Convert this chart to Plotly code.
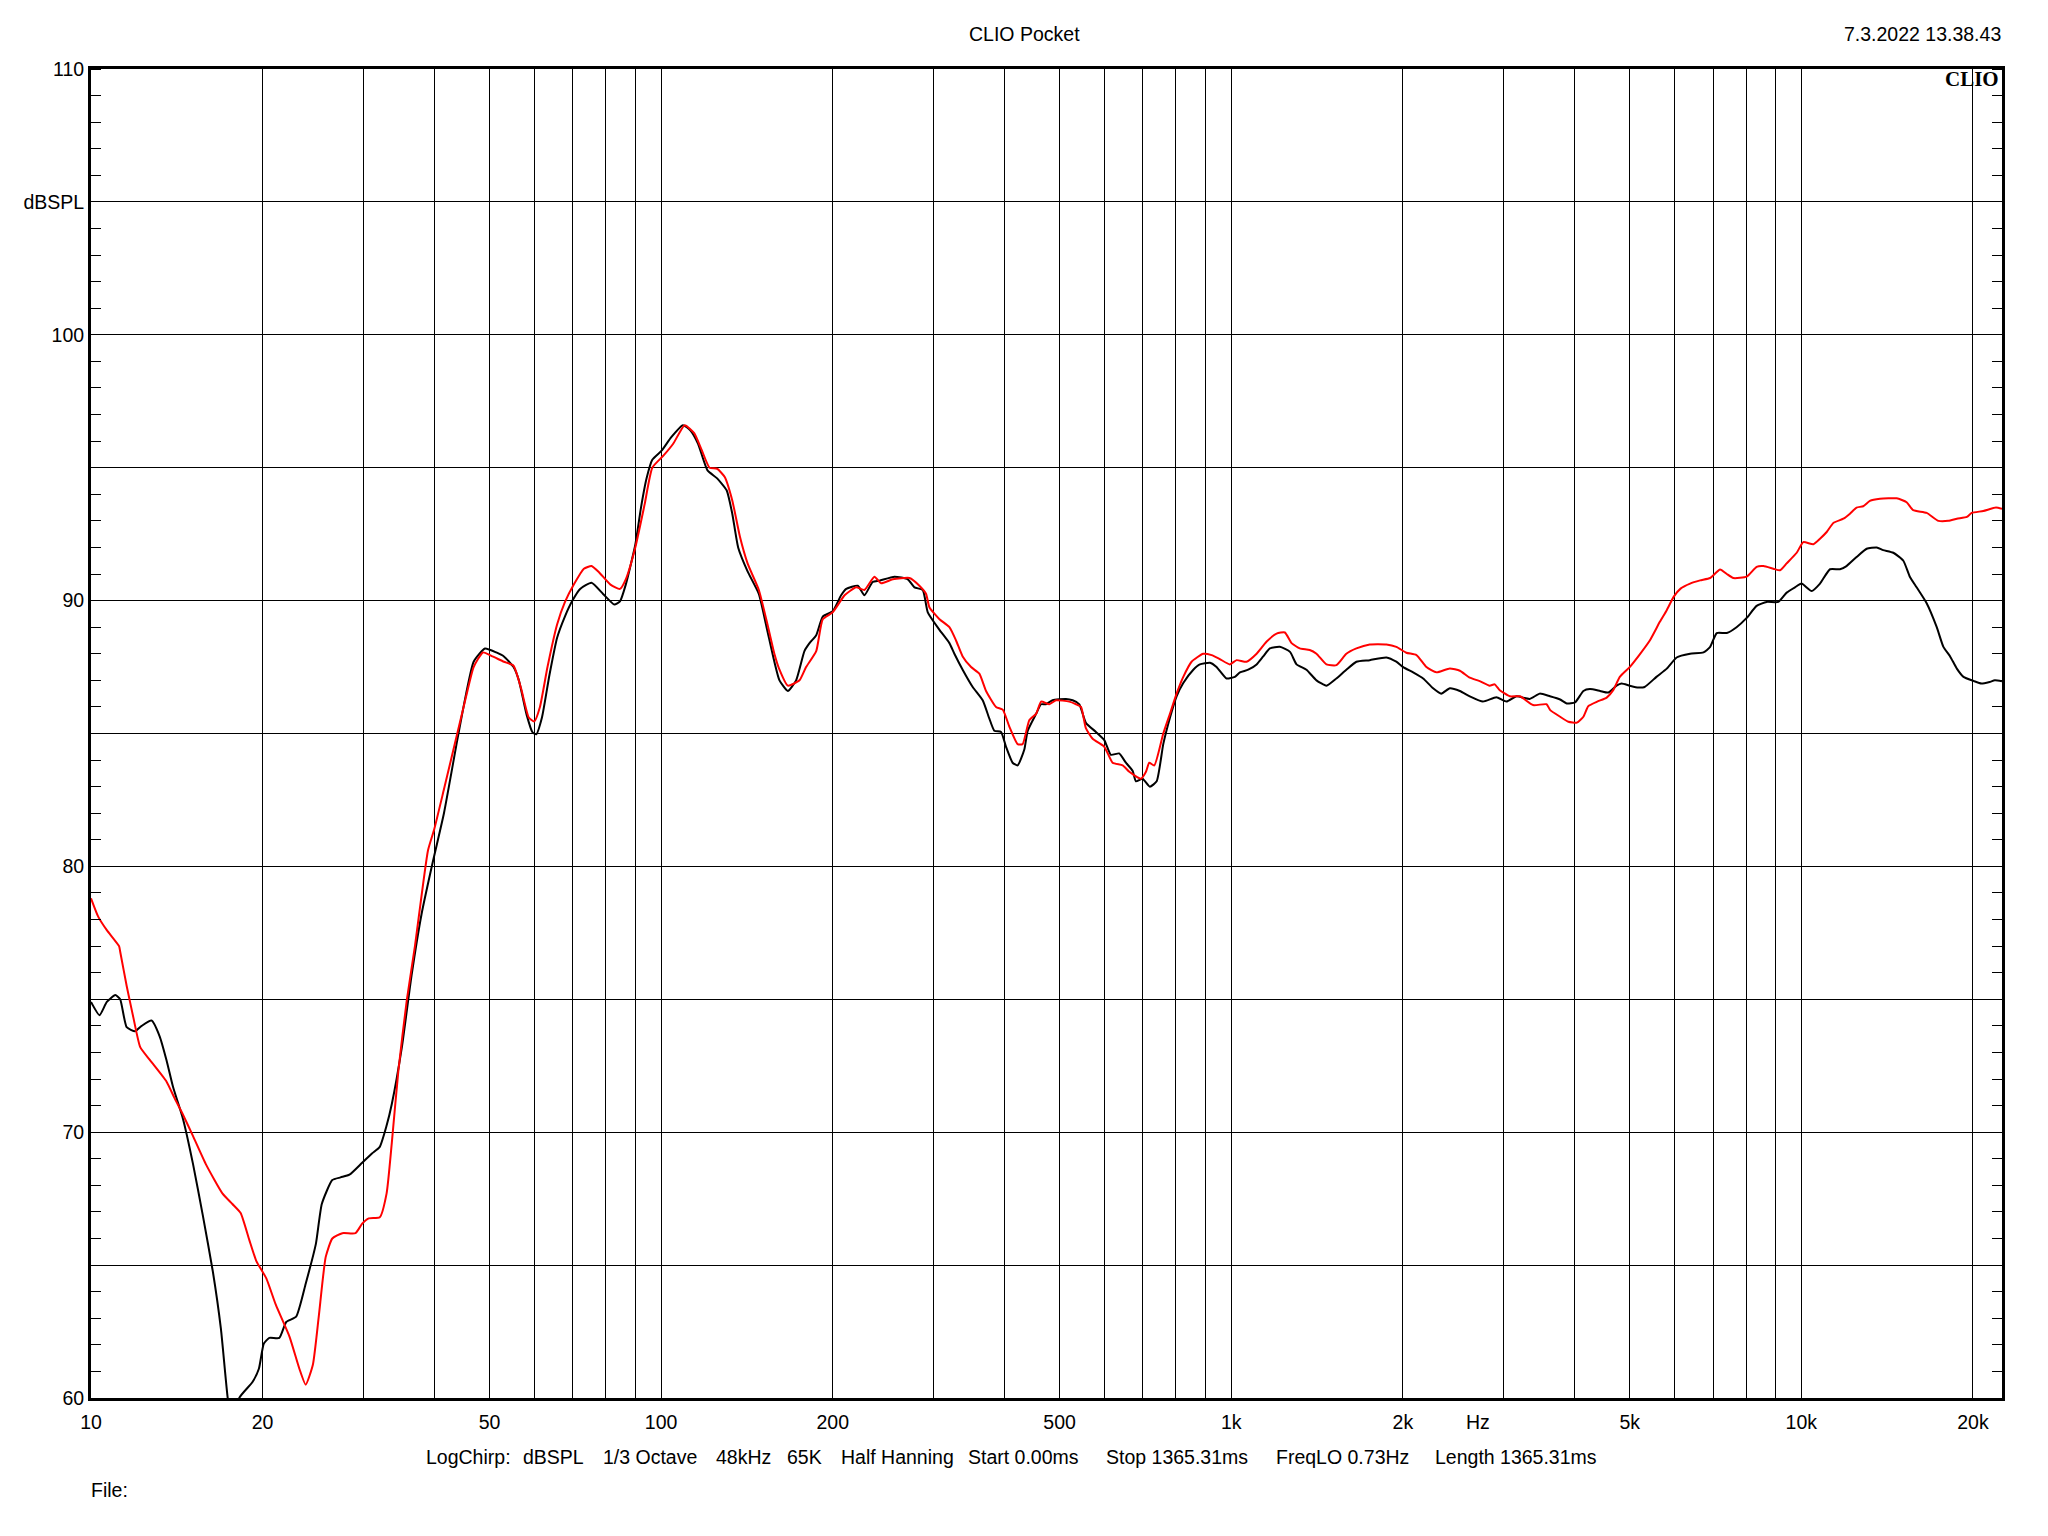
import plotly.graph_objects as go

# ---- data ----
black_freq = [10, 10.35, 10.66, 11.03, 11.25, 11.55, 11.95, 12.27, 12.77, 13.2, 13.57, 13.93, 14.5, 15.1,
              15.7, 16.36, 16.9, 17.37, 17.8, 18.2, 19.2, 19.7, 20.1, 20.55, 21.4, 22.0, 22.9, 23.8, 24.8,
              25.4, 26.5, 27.4, 28.4, 29.9, 31.1, 32.1, 33.0, 33.7, 35.1, 36.5, 38.0, 39.8, 41.6, 43.9,
              45.5, 46.9, 49.1, 51.4, 53.0, 55.1, 56.3, 58.1, 59.5, 60.4, 61.8, 63.7, 65.7, 67.8, 69.9,
              72.1, 75.5, 79.1, 82.8, 84.7, 86.7, 90.1, 92.2, 94.3, 96.5, 100.3, 104.2, 109.2, 112.6,
              116.1, 120.6, 125.4, 130.3, 133.3, 136.5, 141.8, 148.4, 153.1, 158.0, 161.3, 166.8, 172.5,
              178.4, 182.1, 187.1, 192.1, 200, 206.9, 211.2, 221.3, 227.3, 235, 241.5, 256.6, 270.9,
              278.2, 287.7, 293.6, 307.8, 320.4, 326.9, 338, 352, 366.5, 376.5, 384.2, 394.7, 402.7,
              413.6, 422, 433.6, 439.5, 455, 464, 473, 486, 513, 527, 541.5, 556, 579, 599, 615, 636,
              653.6, 671.4, 680.5, 699, 720, 740, 760, 781, 802, 824, 858, 881, 918, 942.5, 981, 1015,
              1036, 1071, 1108, 1138, 1169, 1217, 1268, 1302, 1355, 1411, 1469, 1529, 1592, 1658, 1750,
              1872, 1948, 2003, 2085, 2171, 2260, 2336, 2418, 2518, 2621, 2764, 2918, 3040, 3166, 3339,
              3477, 3623, 3775, 3877, 4010, 4147, 4258, 4437, 4586, 4741, 4837, 5000, 5173, 5311, 5570,
              5807, 6044, 6381, 6736, 6920, 7106, 7400, 7698, 8020, 8348, 8694, 9113, 9425, 9747, 10010,
              10425, 10784, 11228, 11690, 12002, 12500, 13020, 13560, 13920, 14500, 15100, 15500, 15930,
              16590, 17280, 17750, 18240, 18740, 19250, 20040, 20700, 21390, 21850, 22490]
black_db = [74.9, 74.4, 74.9, 75.16, 75.0, 73.95, 73.8, 74.0, 74.2, 73.6, 72.7, 71.7, 70.5, 68.8,
            66.9, 64.75, 62.6, 60.0, 58.6, 60.0, 60.6, 61.1, 62.05, 62.26, 62.26, 62.86, 63.06, 64.3, 65.8,
            67.3, 68.2, 68.3, 68.4, 68.85, 69.2, 69.45, 70.25, 71.06, 73.2, 75.9, 78.2, 80.2, 82.0, 84.75,
            86.5, 87.7, 88.2, 88.05, 87.9, 87.5, 87.0, 85.7, 85.04, 84.97, 85.6, 87.2, 88.6, 89.4, 90.0,
            90.44, 90.67, 90.25, 89.85, 89.97, 90.6, 92.1, 93.5, 94.6, 95.3, 95.65, 96.15, 96.6, 96.4,
            95.9, 94.9, 94.6, 94.15, 93.27, 92.0, 91.1, 90.25, 89.0, 87.7, 87.0, 86.6, 87.0,
            88.1, 88.4, 88.7, 89.4, 89.6, 90.2, 90.44, 90.56, 90.2, 90.7, 90.75, 90.9, 90.8,
            90.5, 90.4, 89.56, 88.9, 88.4, 88.0, 87.4, 86.75, 86.25, 85.56, 85.1, 85.06, 84.5,
            83.9, 83.8, 84.4, 85.1, 85.75, 86.1, 86.1, 86.25, 86.3, 86.25, 86.1, 85.4, 85.06, 84.75, 84.2, 84.25,
            83.9, 83.6, 83.2, 83.3, 83.0, 83.2, 84.6, 85.6, 86.4, 86.9, 87.4, 87.6, 87.66, 87.5, 87.07, 87.13,
            87.3, 87.4, 87.6, 87.9, 88.2, 88.26, 88.07, 87.6, 87.4, 87.0, 86.8, 87.07, 87.4, 87.7, 87.76,
            87.86, 87.7, 87.5, 87.3, 87.07, 86.7, 86.5, 86.7, 86.6, 86.4, 86.2, 86.36, 86.2, 86.4, 86.3,
            86.5, 86.4, 86.28, 86.13, 86.17, 86.6, 86.67, 86.6, 86.54, 86.8, 86.88, 86.8, 86.73, 86.75, 87.13,
            87.44, 87.86, 88.0, 88.05, 88.26, 88.78, 88.78, 89.0, 89.35, 89.8, 89.95, 89.95, 90.3, 90.5, 90.64,
            90.36, 90.64, 91.18, 91.18, 91.3, 91.64, 91.95, 92.0, 91.9, 91.8, 91.5, 90.9, 90.5,
            89.9, 89.0, 88.26, 87.9, 87.44, 87.13, 86.98, 86.88, 86.94, 87.0, 86.97]

red_freq = [10, 10.3, 10.66, 11.2, 11.25, 11.55, 11.87, 12.2, 12.7, 13.57, 14.0, 14.5, 15.1, 15.9, 17.0,
            17.7, 18.3, 18.95, 19.5, 20.3, 21.1, 22.3, 23.2, 23.8, 24.5, 25.1, 25.8, 26.5, 27.6, 29.1,
            29.9, 30.7, 32.1, 33.0, 33.7, 34.6, 35.8, 37.0, 39.0, 40.0, 41.6, 43.9, 45.5, 46.9, 48.7,
            50.6, 53.0, 55.1, 56.8, 58.6, 59.9, 61.3, 63.2, 65.7, 67.8, 70.4, 73.2, 75.5, 77.8, 81.5,
            84.7, 86.7, 90.1, 93.6, 96.5, 101.1, 105.0, 110.0, 114.3, 117.9, 121.6, 125.4, 129.3, 133.3,
            137.5, 141.8, 148.4, 153.1, 158.0, 161.3, 166.8, 174.9, 179.6, 187.1, 192.1, 200, 209.8,
            219.8, 227.3, 236.7, 243.1, 254.9, 272.7, 283.8, 291.6, 295.5, 307.8, 320.4, 329.1, 338,
            349.7, 361.6, 371.5, 386.8, 397.4, 408.3, 422, 430.6, 442.4, 455, 464, 479.7, 492.8, 520,
            534.3, 545.2, 556, 571.4, 599, 619.4, 645, 662.6, 694.5, 708.7, 718, 733, 760, 781, 802,
            824, 852, 893, 924, 955, 994.6, 1022, 1064, 1108, 1153, 1201, 1242, 1276, 1319, 1373, 1411,
            1469, 1529, 1592, 1658, 1750, 1872, 1948, 2028, 2113, 2200, 2291, 2418, 2518, 2621, 2728,
            2840, 2898, 2958, 3081, 3209, 3384, 3574, 3627, 3775, 3903, 4040, 4147, 4230, 4384, 4556,
            4678, 4804, 5000, 5208, 5423, 5647, 5807, 5971, 6140, 6381, 6645, 6920, 7203, 7400, 7600,
            8020, 8348, 8580, 8931, 9177, 9425, 9815, 10080, 10496, 10784, 11080, 11380, 11850, 12170,
            12500, 12840, 13190, 13740, 14700, 15300, 15710, 16590, 17400, 18110, 18740, 19520, 19900,
            20850, 21950, 22490]
red_db = [78.8, 78.1, 77.6, 77.0, 76.8, 75.5, 74.3, 73.2, 72.7, 71.9, 71.3, 70.66, 69.85, 68.8, 67.7,
          67.3, 66.96, 65.95, 65.15, 64.5, 63.5, 62.3, 61.1, 60.5, 61.25, 63.1, 65.3, 66.0, 66.2, 66.2,
          66.56, 66.76, 66.8, 67.7, 69.6, 72.3, 74.96, 77.0, 80.6, 81.4, 82.9, 85.0, 86.4, 87.5, 88.05,
          87.9, 87.7, 87.55, 86.7, 85.6, 85.45, 86.0, 87.5, 89.1, 89.94, 90.63, 91.2, 91.3, 91.07, 90.6,
          90.44, 90.8, 92.0, 93.64, 95.0, 95.47, 95.9, 96.6, 96.3, 95.65, 95.0, 94.96, 94.65, 93.77,
          92.4, 91.4, 90.4, 89.25, 88.0, 87.4, 86.8, 87.0, 87.5, 88.1, 89.3, 89.56, 90.2,
          90.5, 90.4, 90.9, 90.65, 90.8, 90.85, 90.56, 90.25, 89.75, 89.3, 89.0, 88.5, 87.9,
          87.5, 87.25, 86.6, 86.0, 85.9, 85.25, 84.6, 84.6, 85.5, 85.75, 86.2, 86.1, 86.25, 86.2,
          86.1, 86.0, 85.2, 84.8, 84.5, 83.9, 83.8, 83.56, 83.3, 83.56, 83.9, 83.8, 85.0, 85.75, 86.5,
          87.13, 87.7, 88.0, 87.95, 87.8, 87.6, 87.76, 87.7, 88.0, 88.45, 88.76, 88.8, 88.4, 88.2, 88.14, 88.0,
          87.6, 87.57, 88.0, 88.2, 88.35, 88.35, 88.26, 88.04, 87.95, 87.5, 87.3, 87.45, 87.36, 87.1, 86.97,
          86.8, 86.85, 86.63, 86.4, 86.4, 86.07, 86.1, 85.88, 85.63, 85.44, 85.41, 85.63, 86.03, 86.2, 86.35,
          86.63, 87.13, 87.5, 87.98, 88.5, 89.2, 89.64, 90.14, 90.45, 90.64, 90.76, 90.85, 91.17, 91.0, 90.85,
          90.9, 91.27, 91.3, 91.2, 91.14, 91.4, 91.8, 92.2, 92.12, 92.33, 92.58, 92.92, 93.08, 93.27,
          93.5, 93.55, 93.75, 93.83, 93.85, 93.7, 93.4, 93.3, 93.0, 93.0, 93.08, 93.15, 93.3,
          93.37, 93.5, 93.45]

x_grid = [10, 20, 30, 40, 50, 60, 70, 80, 90, 100, 200, 300, 400, 500, 600, 700, 800, 900,
          1000, 2000, 3000, 4000, 5000, 6000, 7000, 8000, 9000, 10000, 20000]
x_labels = ["10", "20", "", "", "50", "", "", "", "", "100", "200", "", "", "500", "", "", "", "",
            "1k", "2k", "", "", "5k", "", "", "", "", "10k", "20k"]
y_grid = [60, 65, 70, 75, 80, 85, 90, 95, 100, 105, 110]
y_labels = ["60", "", "70", "", "80", "", "90", "", "100", "dBSPL", "110"]

footer_items = ["LogChirp:", "dBSPL", "1/3 Octave", "48kHz", "65K", "Half Hanning",
                "Start 0.00ms", "Stop 1365.31ms", "FreqLO 0.73Hz", "Length 1365.31ms"]
footer_px = [426, 523, 603, 716, 787, 841, 968, 1106, 1276, 1435]

FONT = "Liberation Sans, Arial, sans-serif"
FS = 19.5
OFF = 8  # page body margin
L, R, T, B = 91, 2002, 69, 1398   # target plot box in page pixels
W, H = 2032, 1520                  # figure size (fits inside the page body)


def px(x):
    return (x - L) / (R - L)


def py(y):
    return (B - y) / (B - T)


fig = go.Figure()
fig.add_trace(go.Scatter(x=black_freq, y=black_db, mode="lines",
                         line=dict(color="#000000", width=2, shape="spline", smoothing=0.5),
                         showlegend=False, hoverinfo="skip"))
fig.add_trace(go.Scatter(x=red_freq, y=red_db, mode="lines",
                         line=dict(color="#ff0000", width=2, shape="spline", smoothing=0.5),
                         showlegend=False, hoverinfo="skip"))

fig.update_layout(
    width=W, height=H,
    margin=dict(l=L - OFF, r=W - (R - OFF), t=T - OFF, b=H - (B - OFF), pad=0),
    paper_bgcolor="white", plot_bgcolor="white",
    font=dict(family=FONT, size=FS, color="black"),
    showlegend=False,
)
fig.update_xaxes(
    type="log", range=[1, 4.352],
    tickmode="array", tickvals=x_grid, ticktext=x_labels,
    showgrid=True, gridcolor="black", gridwidth=1,
    showline=True, linecolor="black", linewidth=3, mirror=True,
    ticks="", ticklabelstandoff=5, zeroline=False,
    tickfont=dict(family=FONT, size=FS, color="black"),
)
fig.update_yaxes(
    range=[60, 110],
    tickmode="array", tickvals=y_grid, ticktext=y_labels,
    showgrid=True, gridcolor="black", gridwidth=1,
    showline=True, linecolor="black", linewidth=3, mirror="allticks",
    ticks="", ticklabelstandoff=0, zeroline=False,
    tickfont=dict(family=FONT, size=FS, color="black"),
    minor=dict(dtick=1, tick0=60, ticks="inside", ticklen=10, tickwidth=1,
               tickcolor="black", showgrid=False),
)

ann = []
ann.append(dict(text="CLIO Pocket", x=px(1024), y=py(34), xref="paper", yref="paper",
                xanchor="center", yanchor="middle", showarrow=False,
                font=dict(family=FONT, size=FS, color="black")))
ann.append(dict(text="7.3.2022 13.38.43", x=px(2003), y=py(34), xref="paper", yref="paper",
                xanchor="right", yanchor="middle", showarrow=False,
                font=dict(family=FONT, size=FS, color="black")))
ann.append(dict(text="<b>CLIO</b>", x=px(2001), y=py(79), xref="paper", yref="paper",
                xanchor="right", yanchor="middle", showarrow=False,
                font=dict(family="Liberation Serif, Times New Roman, serif", size=21, color="black")))
ann.append(dict(text="Hz", x=px(1478), y=py(1422), xref="paper", yref="paper",
                xanchor="center", yanchor="middle", showarrow=False,
                font=dict(family=FONT, size=FS, color="black")))
for t, xp in zip(footer_items, footer_px):
    ann.append(dict(text=t, x=px(xp - 2), y=py(1457), xref="paper", yref="paper",
                    xanchor="left", yanchor="middle", showarrow=False,
                    font=dict(family=FONT, size=FS, color="black")))
ann.append(dict(text="File:", x=px(89), y=py(1490), xref="paper", yref="paper",
                xanchor="left", yanchor="middle", showarrow=False,
                font=dict(family=FONT, size=FS, color="black")))
fig.update_layout(annotations=ann)

fig.write_html("out.html")
